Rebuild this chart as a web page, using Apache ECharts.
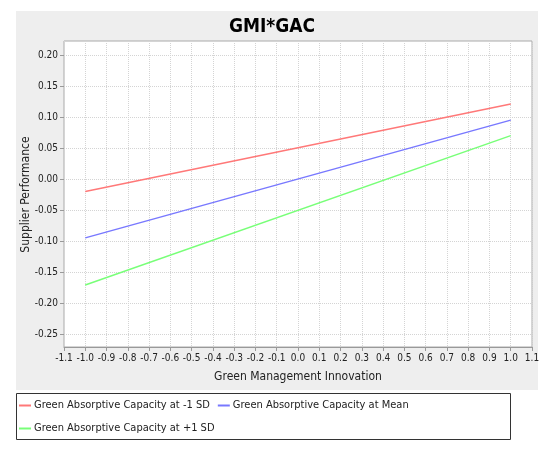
<!DOCTYPE html>
<html>
<head>
<meta charset="utf-8">
<script src="https://cdn.jsdelivr.net/npm/echarts@6/dist/echarts.min.js"></script>
<style>
  html, body { margin: 0; padding: 0; background: #fff; }
  #chart { width: 550px; height: 452px; }
</style>
</head>
<body>
<div id="chart"></div>
<script>
// end points of the three simple slopes (x = -1 and +1 of GMI)
const xValues = [-1.0, 1.0];
const seriesNames = [
  "Green Absorptive Capacity at -1 SD",
  "Green Absorptive Capacity at Mean",
  "Green Absorptive Capacity at +1 SD"
];
const lowSD = [-0.02, 0.121];
const meanSD = [-0.095, 0.095];
const highSD = [-0.171, 0.07];
const colors = ["#ff7878", "#7878ff", "#78ff78"];

const font = "'Liberation Sans Narrow', 'DejaVu Sans Condensed', 'Liberation Sans', sans-serif";

const chart = echarts.init(document.getElementById("chart"));

const makeSeries = (name, ys, i) => ({
  name: name,
  type: "line",
  xAxisIndex: 1,
  yAxisIndex: 1,
  data: xValues.map((x, k) => [x, ys[k]]),
  showSymbol: false,
  lineStyle: { color: colors[i], width: 1.5 },
  itemStyle: { color: colors[i] },
  animation: false
});

const gridLine = { show: true, lineStyle: { color: "#d4d4d4", type: "dotted" } };

chart.setOption({
  backgroundColor: "#fff",
  textStyle: { fontFamily: font },
  graphic: [
    {
      type: "rect",
      z: -10,
      shape: { x: 16, y: 11, width: 522, height: 379 },
      style: { fill: "#eeeeee" }
    },
    {
      type: "rect",
      z: -5,
      shape: { x: 16.5, y: 393.5, width: 494, height: 46 },
      style: { fill: "#fff", stroke: "#333", lineWidth: 1 }
    }
  ],
  title: {
    text: "GMI*GAC",
    left: 267,
    top: 13,
    textAlign: "center",
    textStyle: { fontFamily: font, fontSize: 19, fontWeight: "bold", color: "#000" }
  },
  legend: {
    left: 16,
    top: 396,
    width: 480,
    padding: [2, 3, 2, 3],
    itemGap: 8,
    itemWidth: 12,
    itemHeight: 2,
    icon: "rect",
    align: "left",
    data: seriesNames,
    textStyle: { fontFamily: font, fontSize: 11, color: "#222", padding: [0, 0, 0, -2], lineHeight: 15 }
  },
  grid: [
    // plot frame: carries the x axis and the vertical grid lines
    {
      left: 64, top: 41, right: 18, bottom: 105,
      show: true, backgroundColor: "#fff", borderColor: "#aaa", borderWidth: 1
    },
    // value area -0.25 .. 0.20 inside the frame
    { left: 64, top: 55, right: 18, bottom: 118 }
  ],
  xAxis: [
    {
      type: "value",
      gridIndex: 0,
      min: -1.1,
      max: 1.1,
      interval: 0.1,
      name: "Green Management Innovation",
      nameLocation: "middle",
      nameGap: 24,
      nameTextStyle: { fontFamily: font, fontSize: 12, color: "#222" },
      axisLine: { onZero: false, lineStyle: { color: "#999" } },
      axisTick: { show: true, length: 4, lineStyle: { color: "#999" } },
      axisLabel: { color: "#222", fontSize: 10, margin: 6, formatter: v => v.toFixed(1) },
      splitLine: gridLine
    },
    {
      type: "value",
      gridIndex: 1,
      min: -1.1,
      max: 1.1,
      show: false
    }
  ],
  yAxis: [
    {
      type: "value",
      gridIndex: 0,
      min: 0,
      max: 1,
      show: false
    },
    {
      type: "value",
      gridIndex: 1,
      min: -0.25,
      max: 0.2,
      interval: 0.05,
      name: "Supplier Performance",
      nameLocation: "middle",
      nameGap: 32,
      nameMoveOverlap: false,
      nameTextStyle: { fontFamily: font, fontSize: 12, color: "#222" },
      axisLine: { show: false, onZero: false },
      axisTick: { show: true, length: 4, lineStyle: { color: "#999" } },
      axisLabel: { color: "#222", fontSize: 10, margin: 6, formatter: v => v.toFixed(2) },
      splitLine: gridLine
    }
  ],
  series: [
    makeSeries(seriesNames[0], lowSD, 0),
    makeSeries(seriesNames[1], meanSD, 1),
    makeSeries(seriesNames[2], highSD, 2)
  ]
});
</script>
</body>
</html>
